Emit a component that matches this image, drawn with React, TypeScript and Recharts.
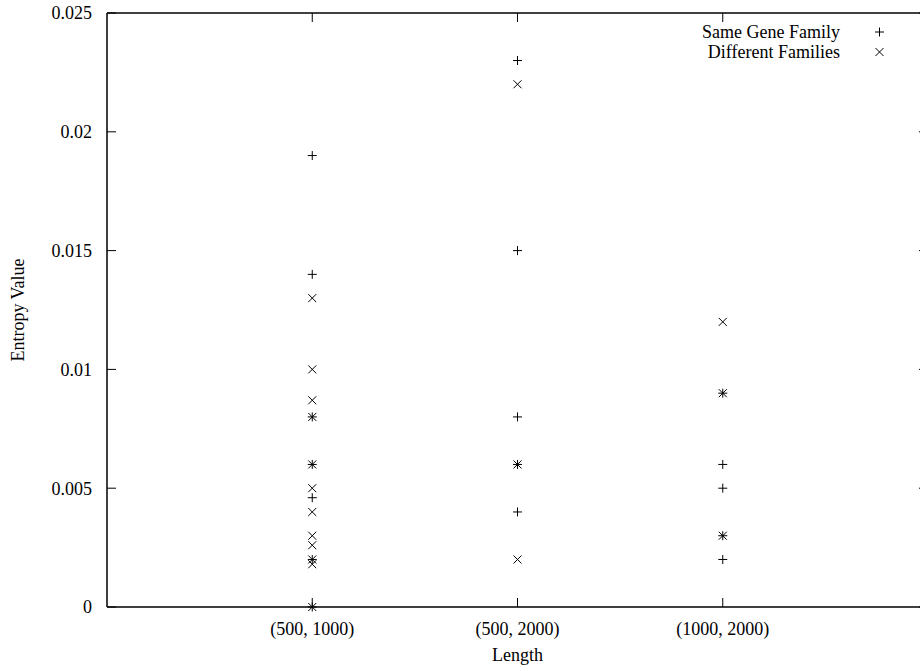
import React from 'react';
import { ScatterChart, Scatter, XAxis, YAxis } from 'recharts';

// length buckets on the x axis (placed at 1, 2, 3 on a 0..4 scale)
const categories = ['(500, 1000)', '(500, 2000)', '(1000, 2000)'];
const categoryPos = [1, 2, 3];
const yTicks = [0, 0.005, 0.01, 0.015, 0.02, 0.025];

// entropy values per bucket
const sameFamily = [
  [0.019, 0.014, 0.008, 0.006, 0.0046, 0.002, 0],
  [0.023, 0.015, 0.008, 0.006, 0.004],
  [0.009, 0.006, 0.005, 0.003, 0.002],
];
const differentFamilies = [
  [0.013, 0.01, 0.0087, 0.008, 0.006, 0.005, 0.004, 0.003, 0.0026, 0.002, 0.0018, 0],
  [0.022, 0.006, 0.002],
  [0.012, 0.009, 0.003],
];

const toPoints = (groups: number[][]) =>
  groups.flatMap((vals, i) => vals.map((v) => ({ x: categoryPos[i], y: v })));

const samePoints = toPoints(sameFamily);
const diffPoints = toPoints(differentFamilies);

const FONT = '"Liberation Serif", "Times New Roman", serif';
const INK = '#000';

function PlusMarker({ cx, cy }: any) {
  if (cx == null || cy == null) return <g />;
  return (
    <g stroke={INK} strokeWidth={1}>
      <line x1={cx - 4.5} x2={cx + 4.5} y1={cy} y2={cy} />
      <line x1={cx} x2={cx} y1={cy - 4.5} y2={cy + 4.5} />
    </g>
  );
}

function CrossMarker({ cx, cy }: any) {
  if (cx == null || cy == null) return <g />;
  return (
    <g stroke={INK} strokeWidth={1}>
      <line x1={cx - 4} x2={cx + 4} y1={cy - 4} y2={cy + 4} />
      <line x1={cx - 4} x2={cx + 4} y1={cy + 4} y2={cy - 4} />
    </g>
  );
}

const NoMarker = () => <g />;

function LeftTick({ x, y, payload }: any) {
  return (
    <g>
      <line x1={x} x2={x + 9} y1={y} y2={y} stroke={INK} />
      <text x={x - 15} y={y} dy="0.35em" textAnchor="end" fontSize={18} fontFamily={FONT} fill={INK}>
        {String(payload.value)}
      </text>
    </g>
  );
}

function RightTick({ x, y }: any) {
  return <line x1={x} x2={x - 9} y1={y} y2={y} stroke={INK} />;
}

function BottomTick({ x, y, payload }: any) {
  const idx = categoryPos.indexOf(payload.value);
  return (
    <g>
      <line x1={x} x2={x} y1={y} y2={y - 9} stroke={INK} />
      <text x={x} y={y + 22} dy="0.35em" textAnchor="middle" fontSize={18} fontFamily={FONT} fill={INK}>
        {idx >= 0 ? categories[idx] : ''}
      </text>
    </g>
  );
}

function TopTick({ x, y }: any) {
  return <line x1={x} x2={x} y1={y} y2={y + 9} stroke={INK} />;
}

function YLabel({ viewBox }: any) {
  const cy = viewBox.y + viewBox.height / 2;
  return (
    <text
      x={18}
      y={cy}
      transform={`rotate(-90, 18, ${cy})`}
      textAnchor="middle"
      dy="0.35em"
      fontSize={18}
      fontFamily={FONT}
      fill={INK}
    >
      Entropy Value
    </text>
  );
}

function KeyBox() {
  const rows = [
    { label: 'Same Gene Family', Marker: PlusMarker },
    { label: 'Different Families', Marker: CrossMarker },
  ];
  return (
    <div
      style={{
        position: 'absolute',
        left: 640,
        top: 22,
        width: 250,
        fontFamily: FONT,
        fontSize: 18,
        color: INK,
      }}
    >
      {rows.map(({ label, Marker }) => (
        <div key={label} style={{ display: 'flex', justifyContent: 'flex-end', alignItems: 'center', height: 20 }}>
          <div style={{ height: 20, lineHeight: '20px', whiteSpace: 'nowrap' }}>{label}</div>
          <svg width={50} height={20} style={{ display: 'block' }}>
            <Marker cx={39.5} cy={10} />
          </svg>
        </div>
      ))}
    </div>
  );
}

export default function App() {
  return (
    <div
      style={{
        position: 'absolute',
        left: 0,
        top: 0,
        width: 920,
        height: 671,
        overflow: 'hidden',
        background: '#fff',
      }}
    >
      <ScatterChart width={940} height={671} margin={{ top: 13, right: 12, bottom: 0, left: 0 }}>
        <XAxis
          xAxisId="bottom"
          type="number"
          dataKey="x"
          domain={[0, 4]}
          ticks={categoryPos}
          height={64}
          tickSize={0}
          tickMargin={0}
          tick={<BottomTick />}
          axisLine={{ stroke: INK, strokeWidth: 1.5 }}
          label={{ value: 'Length', position: 'insideBottom', offset: 10, fontSize: 18, fontFamily: FONT, fill: INK }}
        />
        <XAxis
          xAxisId="top"
          orientation="top"
          type="number"
          dataKey="x"
          domain={[0, 4]}
          ticks={categoryPos}
          height={1}
          mirror
          tickSize={0}
          tickMargin={0}
          tick={<TopTick />}
          axisLine={{ stroke: INK, strokeWidth: 1.5 }}
        />
        <YAxis
          yAxisId="left"
          type="number"
          dataKey="y"
          domain={[0, 0.025]}
          ticks={yTicks}
          width={107}
          tickSize={0}
          tickMargin={0}
          tick={<LeftTick />}
          axisLine={{ stroke: INK, strokeWidth: 1.5 }}
          label={YLabel}
        />
        <YAxis
          yAxisId="right"
          orientation="right"
          type="number"
          dataKey="y"
          domain={[0, 0.025]}
          ticks={yTicks}
          width={1}
          mirror
          tickSize={0}
          tickMargin={0}
          tick={<RightTick />}
          axisLine={{ stroke: INK, strokeWidth: 1.5 }}
        />
        <Scatter
          name="Same Gene Family"
          data={samePoints}
          xAxisId="bottom"
          yAxisId="left"
          shape={PlusMarker}
          isAnimationActive={false}
        />
        <Scatter
          name="Different Families"
          data={diffPoints}
          xAxisId="bottom"
          yAxisId="left"
          shape={CrossMarker}
          isAnimationActive={false}
        />
        {/* invisible copy so the top/right frame axes have data to scale */}
        <Scatter data={samePoints} xAxisId="top" yAxisId="right" shape={NoMarker} isAnimationActive={false} />
      </ScatterChart>
      <KeyBox />
    </div>
  );
}
